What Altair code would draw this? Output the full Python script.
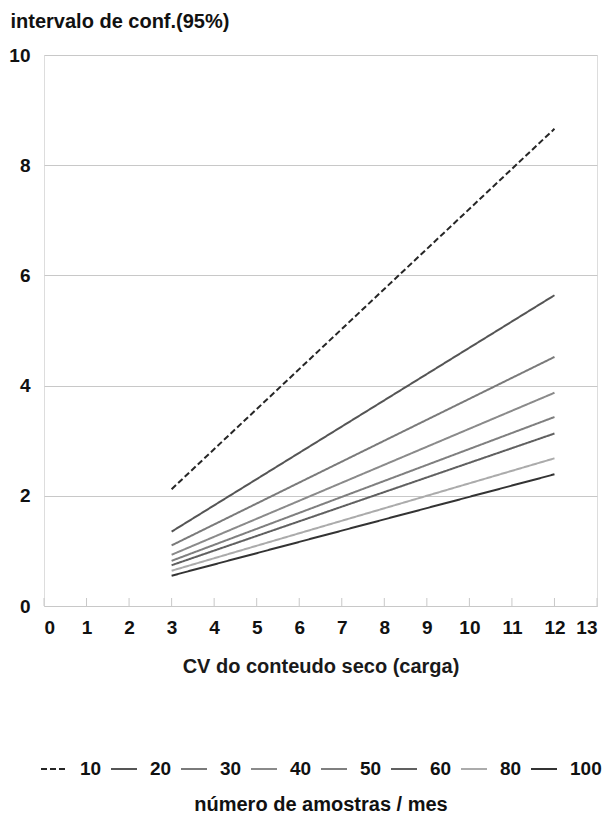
import altair as alt
import pandas as pd

series = ["10", "20", "30", "40", "50", "60", "80", "100"]
cv = [3, 12]
y_start = [2.12, 1.35, 1.10, 0.93, 0.82, 0.74, 0.64, 0.55]
y_end = [8.66, 5.64, 4.52, 3.87, 3.43, 3.13, 2.68, 2.39]
colors = ["#262626", "#555555", "#7a7a7a", "#8a8a8a", "#7f7f7f", "#606060", "#ababab", "#333333"]
dashes = [[6, 3], [1, 0], [1, 0], [1, 0], [1, 0], [1, 0], [1, 0], [1, 0]]
x_ticks = list(range(0, 14))

rows = []
for s, a, b in zip(series, y_start, y_end):
    rows.append({"n": s, "cv": cv[0], "ic": a})
    rows.append({"n": s, "cv": cv[1], "ic": b})
df = pd.DataFrame(rows)
ticks_df = pd.DataFrame({"t": x_ticks})

FONT = "Liberation Sans"
W, H = 553, 551

xscale = alt.Scale(domain=[0, 13], nice=False)

lines = alt.Chart(df).mark_line(strokeWidth=2).encode(
    x=alt.X("cv:Q", scale=xscale,
            axis=alt.Axis(values=x_ticks, ticks=False, grid=False, domain=True,
                          domainColor="#c8c8c8", labelFontSize=19, labelFontWeight="bold",
                          labelColor="#111", labelPadding=12, labelFont=FONT,
                          title="CV do conteudo seco (carga)", titleFont=FONT,
                          titleFontSize=20, titleFontWeight="bold", titleColor="#1a1a1a",
                          titleY=60, titleBaseline="middle")),
    y=alt.Y("ic:Q", scale=alt.Scale(domain=[0, 10], nice=False),
            axis=alt.Axis(values=[0, 2, 4, 6, 8, 10], ticks=False, domain=False,
                          grid=True, gridColor="#c8c8c8", labelFontSize=19,
                          labelFontWeight="bold", labelColor="#111", labelPadding=14,
                          labelFont=FONT, title="intervalo de conf.(95%)", titleFont=FONT,
                          titleFontSize=20, titleFontWeight="bold", titleColor="#111",
                          titleAngle=0, titleAlign="left", titleBaseline="middle",
                          titleX=-34, titleY=-34)),
    color=alt.Color("n:N", scale=alt.Scale(domain=series, range=colors),
                    legend=alt.Legend(title="número de amostras / mes", orient="none",
                                      direction="horizontal", columns=8,
                                      legendX=-4, legendY=700,
                                      titleOrient="bottom", titleAnchor="middle",
                                      titleFont=FONT, titleFontSize=20,
                                      titleFontWeight="bold", titleColor="#111",
                                      titlePadding=16, titleLimit=600,
                                      labelFont=FONT, labelFontSize=19,
                                      labelFontWeight="bold", labelColor="#111",
                                      symbolType="stroke", symbolSize=676,
                                      symbolStrokeWidth=2, labelOffset=12,
                                      columnPadding=5)),
    strokeDash=alt.StrokeDash("n:N", scale=alt.Scale(domain=series, range=dashes),
                              legend=None),
    detail="n:N",
)

tick_marks = alt.Chart(ticks_df).mark_rule(color="#c8c8c8", strokeWidth=1).encode(
    x=alt.X("t:Q", scale=xscale),
    y=alt.value(H),
    y2=alt.value(H - 8),
)

chart = alt.layer(tick_marks, lines).properties(
    width=W, height=H,
    autosize=alt.AutoSizeParams(type="none"),
    padding={"left": 44, "top": 55, "right": 10, "bottom": 211},
).configure_view(stroke="#c8c8c8").configure(background="white")

chart.save("out.html", embed_options={"renderer": "svg", "actions": False})
